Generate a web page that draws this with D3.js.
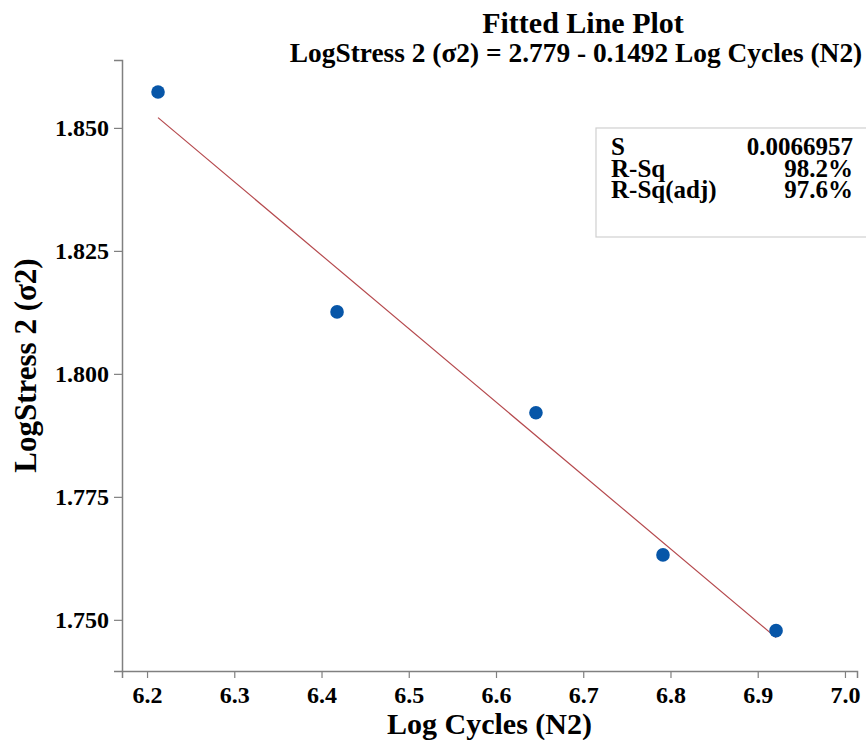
<!DOCTYPE html>
<html>
<head>
<meta charset="utf-8">
<script src="https://cdn.jsdelivr.net/npm/d3@7"></script>
<style>
  html, body { margin: 0; padding: 0; background: #fff; }
  svg { display: block; }
  text { font-family: "Liberation Serif", "Times New Roman", serif; font-weight: bold; fill: #000; }
</style>
</head>
<body>
<svg id="chart" width="866" height="740"></svg>
<script>
// Observations: log cycles vs log stress
const logCycles = [6.2126, 6.4178, 6.6458, 6.7914, 6.9210];
const logStress = [1.8573, 1.8126, 1.7921, 1.7632, 1.7478];

// Regression fit: y = intercept + slope * x
const intercept = 2.779;
const slope = -0.1492;

// Summary statistics shown in the box
const statLabels = ["S", "R-Sq", "R-Sq(adj)"];
const statValues = ["0.0066957", "98.2%", "97.6%"];

// Axis ticks
const xTicks = [6.2, 6.3, 6.4, 6.5, 6.6, 6.7, 6.8, 6.9, 7.0];
const yTicks = [1.750, 1.775, 1.800, 1.825, 1.850];

const titleText = "Fitted Line Plot";
const subtitleText = "LogStress 2 (σ2) = 2.779 - 0.1492 Log Cycles (N2)";
const xLabel = "Log Cycles (N2)";
const yLabel = "LogStress 2 (σ2)";

const svg = d3.select("#chart");
const plot = { left: 122, right: 857, top: 60, bottom: 671 };

const x = d3.scaleLinear().domain([6.1713, 7.0138]).range([plot.left, plot.right]);
const y = d3.scaleLinear().domain([1.7396, 1.8638]).range([plot.bottom, plot.top]);

const axisColor = "#808080";
const tickFont = "24px";

// X axis
const gx = svg.append("g")
  .attr("transform", `translate(0,${plot.bottom})`)
  .call(d3.axisBottom(x).tickValues(xTicks).tickFormat(d3.format(".1f")).tickSizeOuter(0).tickSize(7).tickPadding(8));
gx.select(".domain").attr("stroke", axisColor).attr("stroke-width", 1.5);
gx.selectAll(".tick line").attr("stroke", axisColor).attr("stroke-width", 1.2);
gx.selectAll(".tick text").style("font-size", tickFont).attr("fill", "#000")
  .style("font-family", "'Liberation Serif', serif").style("font-weight", "bold");

// Y axis
const gy = svg.append("g")
  .attr("transform", `translate(${plot.left},0)`)
  .call(d3.axisLeft(y).tickValues(yTicks).tickFormat(d3.format(".3f")).tickSizeOuter(0).tickSize(8).tickPadding(5));
gy.select(".domain").attr("stroke", axisColor).attr("stroke-width", 1.5);
gy.selectAll(".tick line").attr("stroke", axisColor).attr("stroke-width", 1.2);
gy.selectAll(".tick text").style("font-size", tickFont).attr("fill", "#000")
  .style("font-family", "'Liberation Serif', serif").style("font-weight", "bold");

// Fitted line across the observed range
const xExt = d3.extent(logCycles);
const fitPts = xExt.map(v => [v, intercept + slope * v]);
svg.append("path")
  .datum(fitPts)
  .attr("d", d3.line().x(d => x(d[0])).y(d => y(d[1])))
  .attr("fill", "none")
  .attr("stroke", "#b5494d")
  .attr("stroke-width", 1.2);

// Data points
svg.append("g").selectAll("circle")
  .data(logCycles.map((v, i) => [v, logStress[i]]))
  .join("circle")
  .attr("cx", d => x(d[0]))
  .attr("cy", d => y(d[1]))
  .attr("r", 6.8)
  .attr("fill", "#0756a8");

// Titles
svg.append("text").attr("x", 583).attr("y", 33).attr("text-anchor", "middle")
  .style("font-size", "30px").text(titleText);
svg.append("text").attr("x", 576).attr("y", 62).attr("text-anchor", "middle")
  .style("font-size", "27.4px").text(subtitleText);

// Axis labels
svg.append("text").attr("x", (plot.left + plot.right) / 2).attr("y", 734).attr("text-anchor", "middle")
  .style("font-size", "30px").text(xLabel);
svg.append("text")
  .attr("transform", `translate(36,${(plot.top + plot.bottom) / 2}) rotate(-90)`)
  .attr("text-anchor", "middle")
  .style("font-size", "31px").text(yLabel);

// Statistics box
svg.append("rect")
  .attr("x", 596).attr("y", 128).attr("width", 280).attr("height", 109)
  .attr("fill", "#fff").attr("stroke", "#d0d0d0").attr("stroke-width", 1.2);
const rows = svg.append("g").selectAll("g").data(statLabels).join("g")
  .attr("transform", (d, i) => `translate(0,${155 + i * 21.5})`);
rows.append("text").attr("x", 611).style("font-size", "25px").text(d => d);
rows.append("text").attr("x", 853).attr("text-anchor", "end").style("font-size", "25px")
  .text((d, i) => statValues[i]);
</script>
</body>
</html>
